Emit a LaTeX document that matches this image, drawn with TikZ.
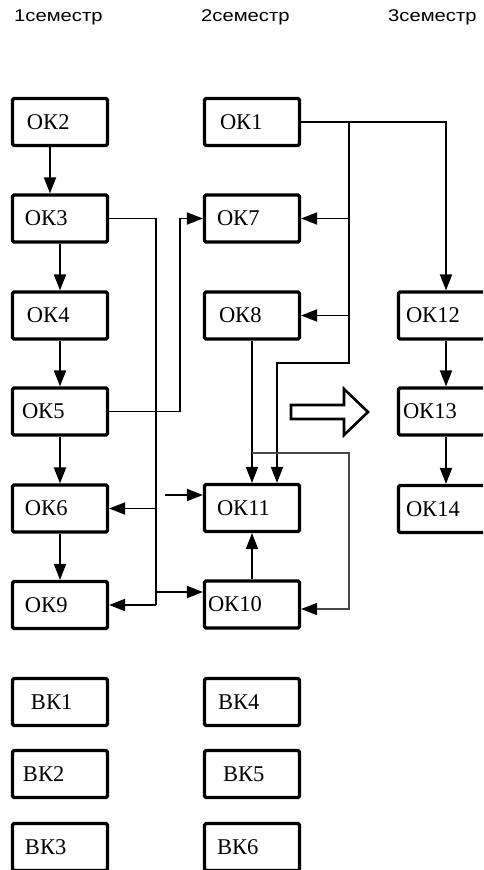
\documentclass[tikz,border=0pt]{standalone}
\usepackage{fontspec}
\usepackage{graphicx}
\setmainfont{Liberation Serif}
\newfontfamily\hdrfont{Liberation Sans}
\usetikzlibrary{arrows.meta}
\tikzset{
  kbox/.style={draw, line width=3.2pt, rounded corners=1.5pt, minimum width=95pt, minimum height=47pt,
    inner xsep=0pt, inner ysep=0pt, text width=95pt, align=left,
    font=\fontsize{22.5}{26}\selectfont},
  hdr/.style={anchor=base west, inner sep=0pt, font=\hdrfont\fontsize{17}{20}\selectfont},
  conn/.style={line width=1.9pt},
  aconn/.style={line width=1.9pt, -{Triangle[length=16pt,width=12pt]}},
  gconn/.style={line width=1.4pt, draw=black!72, -{Triangle[length=16pt,width=12pt,fill=black,color=black]}},
  bigarrow/.style={line width=2.6pt, line join=miter}
}
\newcommand{\kt}[2]{\hspace*{#1pt}#2}
\begin{document}
\begin{tikzpicture}[x=1pt,y=-1pt]
\useasboundingbox (0,0) rectangle (483,870);
\clip (0,0) rectangle (483,870);
% headers
\node[hdr] (h1) at (14,21) {\scalebox{1.19}[1]{1семестр}};
\node[hdr] (h2) at (201,21) {\scalebox{1.19}[1]{2семестр}};
\node[hdr] (h3) at (388,21) {\scalebox{1.19}[1]{3семестр}};
% column 1
\node[kbox] (ok2) at (60,122) {\kt{14.5}{ОК2}};
\node[kbox] (ok3) at (60,218.5) {\kt{12.5}{ОК3}};
\node[kbox] (ok4) at (60,315.5) {\kt{14.5}{ОК4}};
\node[kbox] (ok5) at (60,411.5) {\kt{9.5}{ОК5}};
\node[kbox] (ok6) at (60,508.5) {\kt{12.5}{ОК6}};
\node[kbox] (ok9) at (60,605) {\kt{12.5}{ОК9}};
\node[kbox] (bk1) at (60,702) {\kt{18.5}{ВК1}};
\node[kbox] (bk2) at (60,774) {\kt{10.5}{ВК2}};
\node[kbox] (bk3) at (60,847) {\kt{12.5}{ВК3}};
% column 2
\node[kbox] (ok1) at (252,122) {\kt{15.5}{ОК1}};
\node[kbox] (ok7) at (252,218.5) {\kt{12.5}{ОК7}};
\node[kbox] (ok8) at (252,315.5) {\kt{14.5}{ОК8}};
\node[kbox] (ok11) at (252,508) {\kt{12.5}{ОК11}};
\node[kbox] (ok10) at (252,604.5) {\kt{3.5}{ОК10}};
\node[kbox] (bk4) at (252,702) {\kt{13.5}{ВК4}};
\node[kbox] (bk5) at (252,774) {\kt{18.5}{ВК5}};
\node[kbox] (bk6) at (252,847) {\kt{12.5}{ВК6}};
% column 3
\node[kbox] (ok12) at (446,315.5) {\kt{7.5}{ОК12}};
\node[kbox] (ok13) at (446,411.5) {\kt{4.5}{ОК13}};
\node[kbox] (ok14) at (446,509) {\kt{7.5}{ОК14}};
% column 1 chain
\draw[aconn] ([xshift=-10pt]ok2.south) -- ([xshift=-10pt]ok3.north);
\draw[aconn] (ok3) -- (ok4);
\draw[aconn] (ok4) -- (ok5);
\draw[aconn] (ok5) -- (ok6);
\draw[aconn] (ok6) -- (ok9);
% OK3 route
\coordinate (a1) at (156,218.5);
\coordinate (a2) at (156,508.5);
\coordinate (a3) at (156,592);
\coordinate (a4) at (156,605);
\draw[conn] (ok3.east) -- (a1) -- (a4);
\draw[aconn] (a2) -- (ok6.east);
\draw[aconn] (a4) -- (ok9.east);
\draw[aconn] (a3) -- (ok10.west |- a3);
% OK5 route
\coordinate (b1) at (180,411.5);
\coordinate (b2) at (180,218.5);
\draw[aconn] (ok5.east) -- (b1) -- (b2) -- (ok7.west);
% OK1 routes
\draw[aconn] (ok1.east) -| (ok12.north);
\coordinate (c1) at (349,122);
\coordinate (c2) at (349,218.5);
\coordinate (c3) at (349,315.5);
\coordinate (c4) at (349,363);
\coordinate (c5) at (277,363);
\draw[aconn] (c1) -- (c4) -- (c5) -- (ok11.north -| c5);
\draw[aconn] (c2) -- (ok7.east);
\draw[aconn] (c3) -- (ok8.east);
% OK8 -> OK11
\draw[aconn] (ok8) -- (ok11);
% gray route
\coordinate (d1) at (252,453);
\coordinate (d2) at (349,453);
\coordinate (d3) at (349,609);
\draw[gconn] (d1) -- (d2) -- (d3) -- (ok10.east |- d3);
% OK10 -> OK11
\draw[aconn] (ok10) -- (ok11);
% free arrow
\coordinate (e1) at (165,495);
\draw[aconn] (e1) -- (ok11.west |- e1);
% column 3 chain
\draw[aconn] (ok12) -- (ok13);
\draw[aconn] (ok13) -- (ok14);
% hollow arrow
\draw[bigarrow] (291,405) -- (344,405) -- (344,389) -- (368,412) -- (344,435) -- (344,419) -- (291,419) -- cycle;
\end{tikzpicture}
\end{document}
